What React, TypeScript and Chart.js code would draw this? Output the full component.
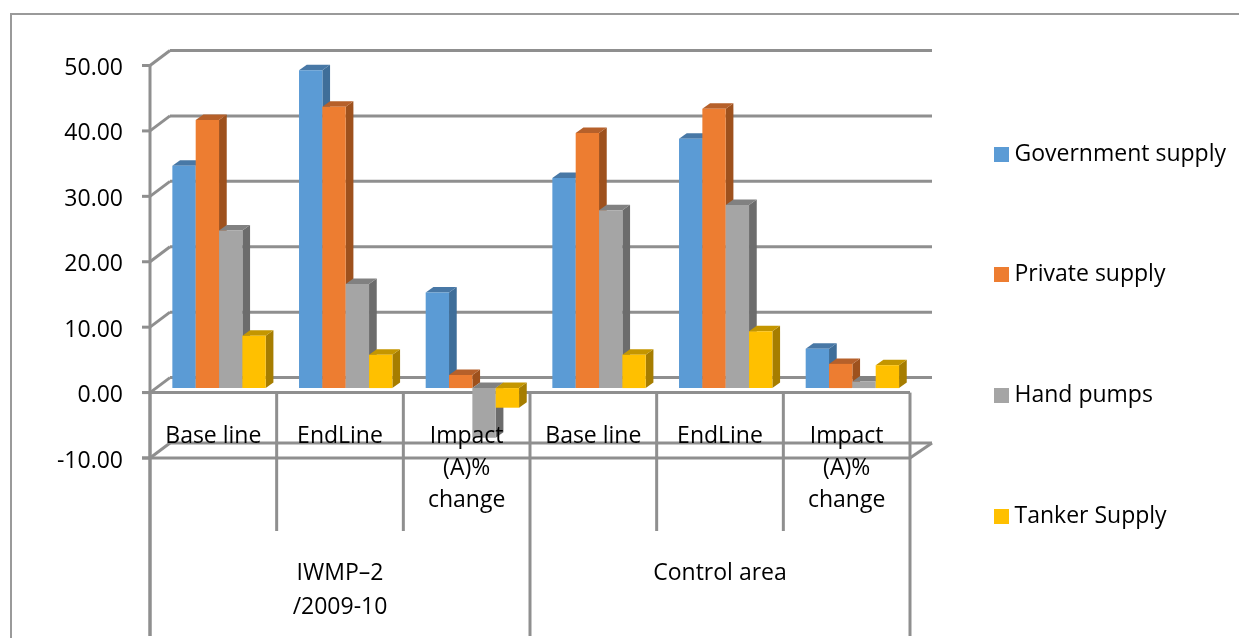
import React, { useEffect, useRef } from "react";
import { Chart, registerables } from "chart.js";

Chart.register(...registerables);

const categories: string[][] = [["Base line"], ["EndLine"], ["Impact", "(A)%", "change"], ["Base line"], ["EndLine"], ["Impact", "(A)%", "change"]];
const groupLabels: string[][] = [["IWMP–2", "/2009-10"], ["Control area"]];
const government = [34.0, 48.6, 14.6, 32.1, 38.1, 6.0];
const privateSupply = [41.0, 43.0, 2.0, 39.0, 42.7, 3.7];
const handPumps = [24.1, 15.9, -7.6, 27.2, 28.0, 1.0];
const tanker = [8.0, 5.1, -3.0, 5.1, 8.7, 3.5];
const seriesNames = ["Government supply", "Private supply", "Hand pumps", "Tanker Supply"];
const frontColors = ["#5B9BD5", "#ED7D31", "#A5A5A5", "#FFC000"];
const sideColors = ["#3F6E99", "#9E511D", "#6C6C6C", "#A67D00"];
const topColors = ["#4878A6", "#B6602A", "#818181", "#C49600"];

const FONT = "'Open Sans', sans-serif";
const FONT_SIZE = 23;
const GRID = "#8F8F8F";
const ROW_STEP = 120.7;

function swatch(color: string) {
  const c = document.createElement("canvas");
  c.width = 15;
  c.height = 15;
  const g = c.getContext("2d")!;
  g.fillStyle = color;
  g.fillRect(0, 0, 15, 15);
  return c;
}

function line(ctx: CanvasRenderingContext2D, x1: number, y1: number, x2: number, y2: number) {
  ctx.beginPath();
  ctx.moveTo(x1, y1);
  ctx.lineTo(x2, y2);
  ctx.stroke();
}

function poly(ctx: CanvasRenderingContext2D, color: string, pts: number[][]) {
  ctx.fillStyle = color;
  ctx.beginPath();
  pts.forEach((p, i) => (i ? ctx.lineTo(p[0], p[1]) : ctx.moveTo(p[0], p[1])));
  ctx.closePath();
  ctx.fill();
}

const depthPlugin = {
  id: "depth",
  afterLayout(chart: any) {
    const legend = chart.legend;
    const pad = legend.options.labels.padding;
    legend.left = 999 - pad;
    legend.right = 1239;
    legend.width = legend.right - legend.left;
    legend.top = 142.5 - pad;
    legend.bottom = 638;
    legend.height = legend.bottom - legend.top;
  },
  beforeDatasetsDraw(chart: any) {
    const ctx: CanvasRenderingContext2D = chart.ctx;
    const y = chart.scales.y;
    const x = chart.scales.x;
    const area = chart.chartArea;
    ctx.save();

    ctx.strokeStyle = "#9A9A9A";
    ctx.lineWidth = 2;
    line(ctx, 11, 14, 1239, 14);
    line(ctx, 11, 13, 11, 638);

    ctx.strokeStyle = GRID;
    ctx.lineWidth = 3;
    const wallX = area.left + 20;
    const wallEnd = area.right + 22;
    const wallDy = -15;
    y.ticks.forEach((t: any) => {
      const py = y.getPixelForValue(t.value);
      line(ctx, wallX, py + wallDy, wallEnd, py + wallDy);
      line(ctx, area.left, py, wallX, py + wallDy);
      line(ctx, area.left - 8, py, area.left, py);
    });
    const zero = y.getPixelForValue(0);
    const floor = y.getPixelForValue(-10);
    line(ctx, area.left - 8, zero, area.right, zero);
    line(ctx, area.left - 8, floor, area.right, floor);
    line(ctx, area.right, floor, wallEnd, floor + wallDy);
    line(ctx, area.left, area.top, area.left, 636);

    const step = x.getPixelForValue(1) - x.getPixelForValue(0);
    for (let i = 0; i <= categories.length; i++) {
      const px = area.left + step * i;
      if (i % 3 === 0) line(ctx, px, zero, px, 636);
      else line(ctx, px, zero, px, 531);
    }

    ctx.translate(5.7, -4.5);
    const dx = 7.7;
    const dy = -5.5;
    for (let c = 0; c < categories.length; c++) {
      chart.getSortedVisibleDatasetMetas().slice().sort((a: any, b: any) => a.index - b.index).forEach((meta: any) => {
        const bar = meta.data[c];
        const l = bar.x - bar.width / 2;
        const r = bar.x + bar.width / 2;
        const top = Math.min(bar.y, bar.base);
        const bottom = Math.max(bar.y, bar.base);
        poly(ctx, sideColors[meta.index], [[r, top], [r + dx, top + dy], [r + dx, bottom + dy], [r, bottom]]);
        poly(ctx, topColors[meta.index], [[l, top], [l + dx, top + dy], [r + dx, top + dy], [r, top]]);
        bar.draw(ctx, area);
      });
    }
    ctx.restore();
    return false;
  },
};

export default function App() {
  const ref = useRef<HTMLCanvasElement>(null);
  useEffect(() => {
    document.body.style.margin = "0";
    const values = [government, privateSupply, handPumps, tanker];
    const chart = new Chart(ref.current!, {
      type: "bar",
      plugins: [depthPlugin],
      data: {
        labels: categories,
        datasets: seriesNames.map((name, i) => ({
          label: name,
          data: values[i],
          backgroundColor: frontColors[i],
          borderWidth: 0,
          barPercentage: 1,
          categoryPercentage: 0.737,
        })),
      } as any,
      options: {
        responsive: false,
        animation: false,
        layout: { padding: { top: 65.5, bottom: 180, left: 0, right: 29 } },
        plugins: {
          tooltip: { enabled: false },
          legend: {
            position: "right",
            align: "start",
            maxWidth: 300,
            labels: {
              usePointStyle: true,
              pointStyleWidth: 4,
              padding: ROW_STEP - FONT_SIZE,
              color: "#000",
              font: { family: FONT, size: FONT_SIZE },
              generateLabels: () =>
                seriesNames.map((text, i) => ({
                  text,
                  fillStyle: frontColors[i],
                  strokeStyle: frontColors[i],
                  lineWidth: 0,
                  hidden: false,
                  datasetIndex: i,
                  pointStyle: swatch(frontColors[i]),
                })),
            },
          },
        },
        scales: {
          x: {
            type: "category",
            position: { y: 0 },
            grid: { display: false },
            border: { display: false },
            ticks: {
              z: 1,
              autoSkip: false,
              maxRotation: 0,
              minRotation: 0,
              padding: 20,
              color: "#000",
              font: { family: FONT, size: FONT_SIZE, lineHeight: 32 / FONT_SIZE },
            },
          },
          x2: {
            type: "category",
            labels: groupLabels,
            position: { y: 0 },
            grid: { display: false },
            border: { display: false },
            ticks: {
              z: 1,
              autoSkip: false,
              maxRotation: 0,
              minRotation: 0,
              padding: 156,
              color: "#000",
              font: { family: FONT, size: FONT_SIZE, lineHeight: 34 / FONT_SIZE },
            },
          },
          y: {
            min: -10,
            max: 50,
            afterFit: (s: any) => {
              s.width = 150;
            },
            grid: { display: false },
            border: { display: false },
            ticks: {
              stepSize: 10,
              padding: 19,
              labelOffset: 3,
              color: "#000",
              font: { family: FONT, size: FONT_SIZE },
              callback: (v: any) => Number(v).toFixed(2),
            },
          },
        },
      } as any,
    });
    return () => chart.destroy();
  }, []);
  return <canvas ref={ref} width={1239} height={638} style={{ display: "block" }} />;
}
